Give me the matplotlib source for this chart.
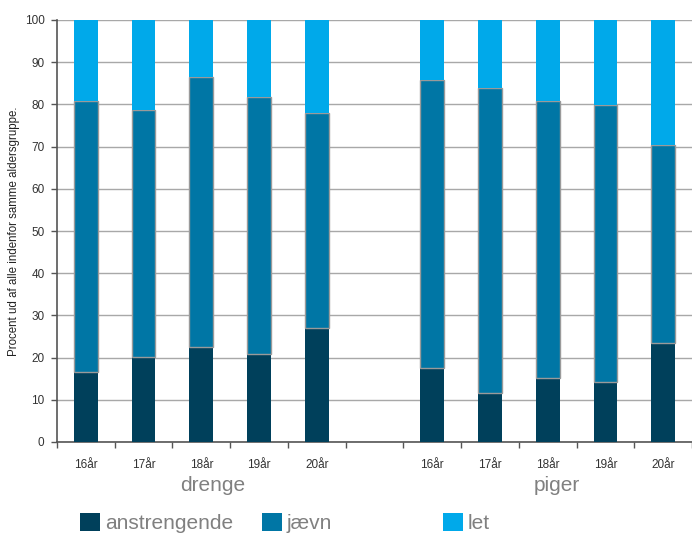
import matplotlib.pyplot as plt
from matplotlib.patches import Patch
import numpy as np

# Data (percent within each age group)
ages = ['16år', '17år', '18år', '19år', '20år']
groups = ['drenge', 'piger']

drenge_anstrengende = [16.5, 20.1, 22.6, 20.9, 27.0]
drenge_jaevn = [64.3, 58.6, 63.8, 60.8, 50.9]
drenge_let = [19.2, 21.5, 13.6, 18.3, 22.1]

piger_anstrengende = [17.5, 11.5, 15.2, 14.2, 23.4]
piger_jaevn = [68.2, 72.5, 65.5, 65.6, 47.0]
piger_let = [14.3, 16.0, 19.3, 20.2, 29.6]

c_dark = '#00405b'
c_mid = '#0076a5'
c_light = '#00a9ea'
txt_gray = '#808080'

plt.rcParams['font.family'] = ['Liberation Sans', 'DejaVu Sans']

fig = plt.figure(figsize=(6.92, 5.37), dpi=100)
ax = fig.add_axes([57 / 692, 1 - 442 / 537, 1 - 57 / 692, (442 - 20) / 537])

# positions: 5 bars, an empty slot, 5 bars
x = np.array([0, 1, 2, 3, 4, 6, 7, 8, 9, 10])
anstr = np.array(drenge_anstrengende + piger_anstrengende)
jaevn = np.array(drenge_jaevn + piger_jaevn)
let = np.array(drenge_let + piger_let)

w = 0.41
ax.bar(x, anstr, w, color=c_dark, zorder=3)
ax.bar(x, jaevn, w, bottom=anstr, color=c_mid, edgecolor='#9a9a9a', linewidth=1, zorder=3)
ax.bar(x, let, w, bottom=anstr + jaevn, color=c_light, zorder=3)

ax.set_xlim(-0.5, 10.45)
ax.set_ylim(0, 100)
ax.set_yticks(range(0, 101, 10))
ax.yaxis.grid(True, color='#a8a8a8', linewidth=1, zorder=0)
ax.set_axisbelow(True)

ax.set_xticks(x)
ax.set_xticklabels(ages + ages)
ax.set_xticks(np.arange(-0.5, 11, 1), minor=True)
ax.tick_params(axis='x', which='major', length=0, pad=12, labelsize=8.5, colors='#333333')
ax.tick_params(axis='x', which='minor', length=4, width=1, color='#555555', direction='out')
ax.tick_params(axis='y', length=4, width=1, color='#555555', pad=5, labelsize=8.5, labelcolor='#333333')

for s in ['top', 'right']:
    ax.spines[s].set_visible(False)
ax.spines['left'].set_color('#555555')
ax.spines['bottom'].set_color('#555555')
ax.spines['left'].set_linewidth(1.2)
ax.spines['bottom'].set_linewidth(1.2)

ax.set_ylabel('Procent ud af alle indenfor samme aldersgruppe.', fontsize=8.3, color='#222222', labelpad=3)

# group labels under the age labels
for gx, g in zip([2.2, 8.15], groups):
    ax.text(gx, -10.2, g, ha='center', va='center', fontsize=15, color=txt_gray,
            transform=ax.transData, clip_on=False)

# legend, one entry per box so the spacing matches
for lx, lab, col in zip([80, 262, 443], ['anstrengende', 'jævn', 'let'], [c_dark, c_mid, c_light]):
    fig.legend(handles=[Patch(facecolor=col, edgecolor='none')], labels=[lab],
               loc='center left', bbox_to_anchor=(lx / 692, 1 - 523 / 537),
               frameon=False, fontsize=15, labelcolor=txt_gray, borderpad=0, borderaxespad=0,
               handlelength=0.95, handleheight=0.95, handletextpad=0.25)

fig.savefig('out.png', dpi=100)
